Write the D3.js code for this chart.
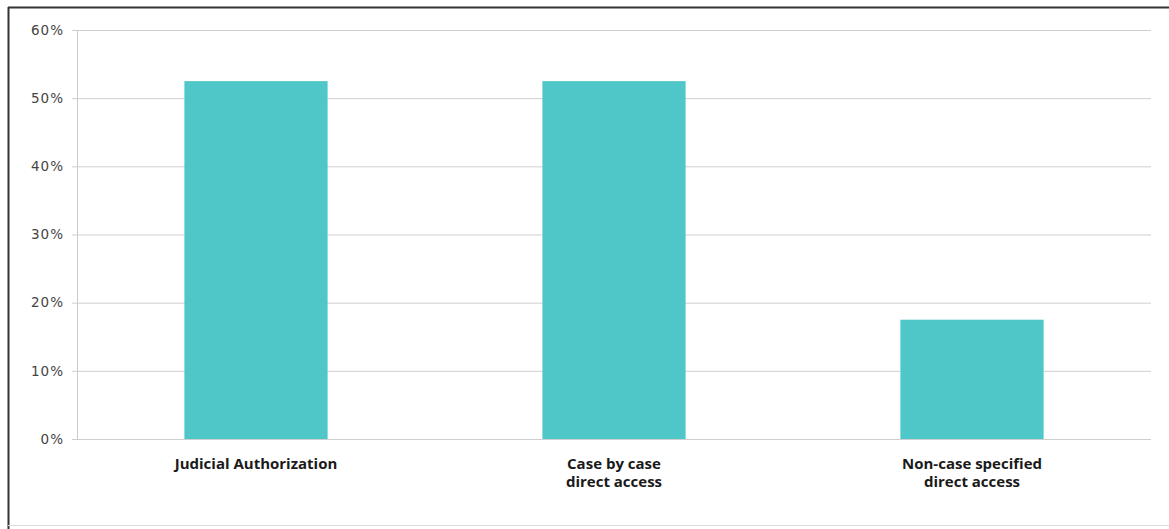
<!DOCTYPE html>
<html>
<head>
<meta charset="utf-8">
<script src="https://cdn.jsdelivr.net/npm/d3@7"></script>
<style>
  html, body { margin: 0; padding: 0; background: #fff; }
  svg { display: block; }
</style>
</head>
<body>
<svg id="chart" width="1169" height="529"></svg>
<script>
// Share of responses by access model
const categories = [
  ["Judicial Authorization"],
  ["Case by case", "direct access"],
  ["Non-case specified", "direct access"]
];
const values = [0.525, 0.525, 0.175];
const yTicks = [0, 0.1, 0.2, 0.3, 0.4, 0.5, 0.6];

const svg = d3.select("#chart");
const W = 1169, H = 529;
const margin = { left: 77, right: 18, top: 30, bottom: 90 };

// Frame around the figure
svg.append("line").attr("x1", 8).attr("x2", W).attr("y1", 7.5).attr("y2", 7.5)
  .attr("stroke", "#333").attr("stroke-width", 2);
svg.append("line").attr("x1", 8.5).attr("x2", 8.5).attr("y1", 7).attr("y2", H)
  .attr("stroke", "#333").attr("stroke-width", 2);
svg.append("line").attr("x1", 8).attr("x2", W).attr("y1", 525.5).attr("y2", 525.5)
  .attr("stroke", "#ddd").attr("stroke-width", 1);

const x = d3.scaleBand()
  .domain(categories.map(d => d.join(" ")))
  .range([margin.left, W - margin.right])
  .paddingInner(0.6)
  .paddingOuter(0.3);

const y = d3.scaleLinear()
  .domain([0, 0.6])
  .range([H - margin.bottom, margin.top]);

// Horizontal gridlines and y tick labels
const yAxis = d3.axisLeft(y)
  .tickValues(yTicks)
  .tickFormat(d3.format(".0%"))
  .tickSize(-(W - margin.right - margin.left))
  .tickPadding(13);

const gy = svg.append("g")
  .attr("transform", `translate(${margin.left},0)`)
  .call(yAxis);
gy.select(".domain").attr("stroke", "#ccc");
gy.selectAll(".tick line").attr("stroke", "#cfcfcf").attr("x1", -5);
gy.selectAll(".tick text")
  .attr("fill", "#444")
  .attr("font-family", "'DejaVu Sans', sans-serif")
  .attr("font-size", 13.5)
  .attr("letter-spacing", 1);

// Bars
svg.append("g").selectAll("rect")
  .data(values)
  .join("rect")
  .attr("x", (d, i) => x(categories[i].join(" ")))
  .attr("width", x.bandwidth())
  .attr("y", d => y(d))
  .attr("height", d => y(0) - y(d))
  .attr("fill", "#4fc6c8");

// Category labels
const labels = svg.append("g").selectAll("text")
  .data(categories)
  .join("text")
  .attr("x", d => x(d.join(" ")) + x.bandwidth() / 2)
  .attr("y", y(0) + 30)
  .attr("text-anchor", "middle")
  .attr("font-family", "'Open Sans', sans-serif")
  .attr("font-weight", "bold")
  .attr("font-size", 15)
  .attr("fill", "#1a1a1a");
labels.selectAll("tspan")
  .data(d => d)
  .join("tspan")
  .attr("x", function() { return d3.select(this.parentNode).attr("x"); })
  .attr("dy", (d, i) => i === 0 ? 0 : 18)
  .text(d => d);
</script>
</body>
</html>
